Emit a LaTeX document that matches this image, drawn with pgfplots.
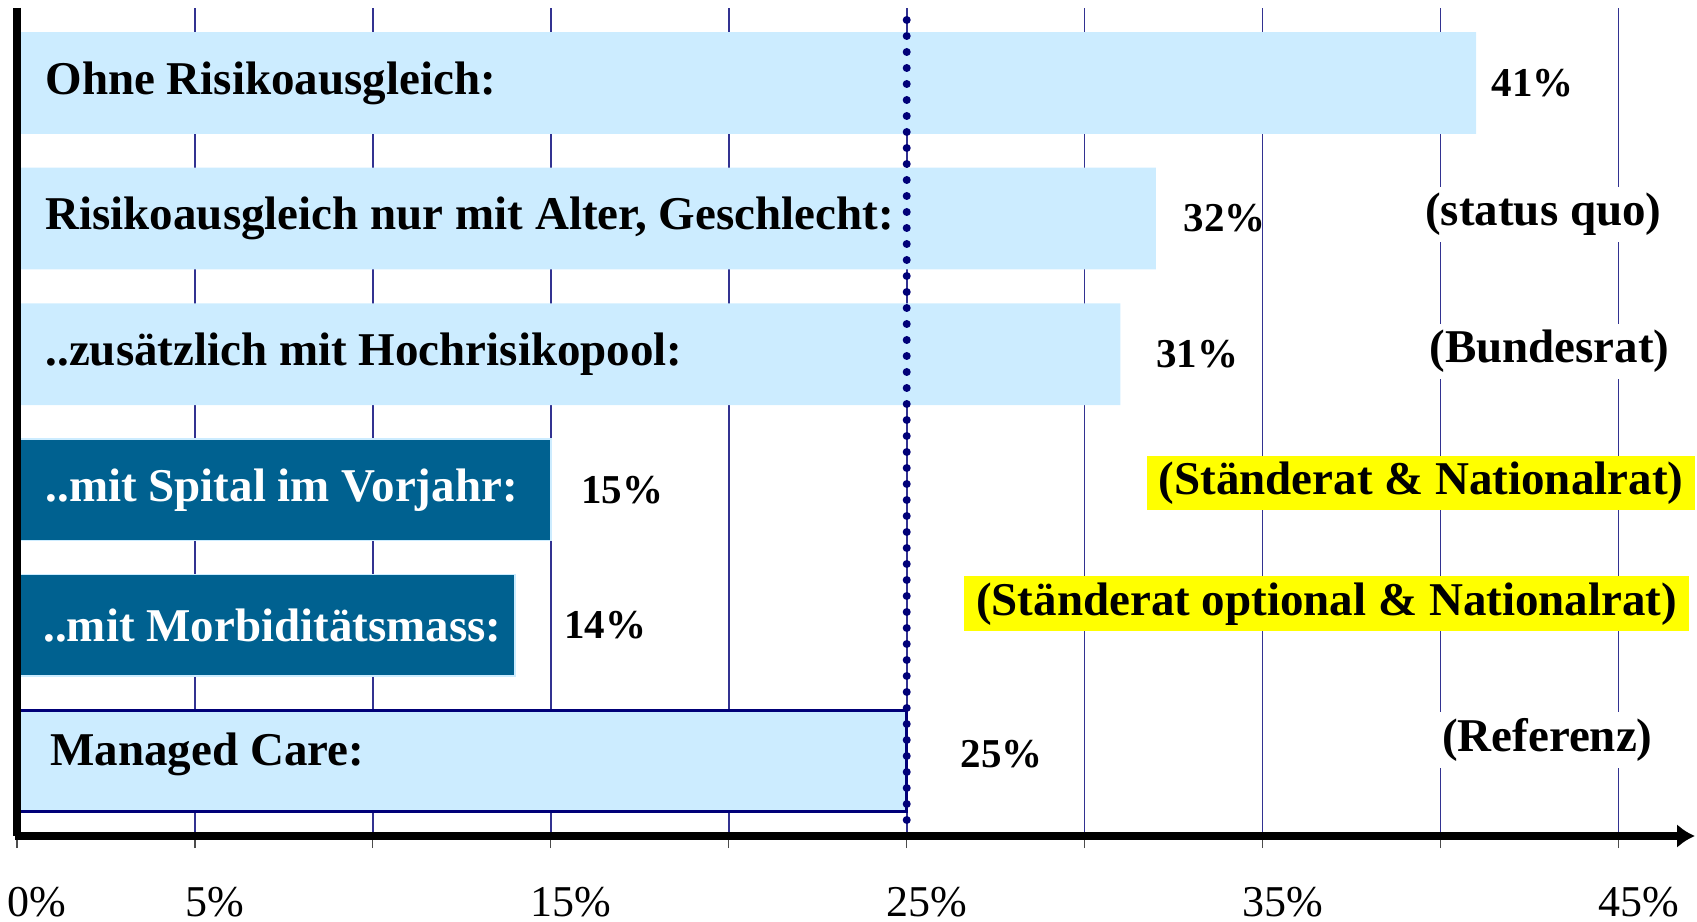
\documentclass[border=0pt]{standalone}
\usepackage{fontspec}
\setmainfont{Liberation Serif}
\usepackage{pgfplots}
\pgfplotsset{compat=1.18}
\usepackage{pgfplotstable}
\usetikzlibrary{arrows.meta}

\definecolor{barlight}{RGB}{204,236,255}
\definecolor{bardark}{RGB}{0,97,144}
\definecolor{refnavy}{RGB}{0,0,120}
\definecolor{gridnavy}{RGB}{50,50,145}
\definecolor{hlyellow}{RGB}{255,255,0}

\newcommand{\lblfont}{\fontsize{23.5pt}{28pt}\selectfont\bfseries}
\newcommand{\valfont}{\fontsize{20.5pt}{24pt}\selectfont\bfseries}

% category labels inside the bars
\pgfplotstableread[col sep=semicolon]{
x;y;label
0.79;5;Ohne Risikoausgleich:
0.79;4;Risikoausgleich nur mit Alter, Geschlecht:
0.79;3;..zusätzlich mit Hochrisikopool:
0.93;0.05;Managed Care:
}\catlight
\pgfplotstableread[col sep=semicolon]{
x;y;label
0.79;2;..mit Spital im Vorjahr:
0.73;1;..mit Morbiditätsmass:
}\catdark
% value labels (position, value)
\pgfplotstableread{
x y v
41.43 5 41
32.77 4 32
32.00 3 31
15.85 2 15
15.37 1 14
26.50 0.05 25
}\vals

\begin{document}
\begin{tikzpicture}
\begin{axis}[
  name=ax,
  scale only axis,
  width=839pt, height=414pt,
  xmin=0, xmax=47.15,
  ymin=-0.553, ymax=5.553,
  axis x line=bottom, axis y line=left,
  axis line style={draw=none},
  xtick={0,5,...,45},
  xticklabels={{0\%},{5\%},{},{15\%},{},{25\%},{},{35\%},{},{45\%}},
  ytick=\empty,
  tick align=outside,
  major tick length=6pt,
  xtick style={draw=black!70, line width=0.6pt},
  xmajorgrids,
  major grid style={gridnavy, line width=0.8pt},
  xticklabel style={font=\fontsize{22pt}{26pt}\selectfont, anchor=center, xshift=10pt, yshift=-27pt},
  clip=false,
  bar width=0.75,
]
\addplot[xbar, bar shift=0pt, fill=barlight, draw=none] coordinates {(41,5) (32,4) (31,3)};
\addplot[xbar, bar shift=0pt, fill=bardark, draw=barlight, line width=0.8pt] coordinates {(15,2) (14,1)};
\addplot[xbar, bar shift=0pt, fill=barlight, draw=refnavy, line width=1.5pt] coordinates {(25,0)};

% reference line at 25%
\addplot[refnavy, line width=4pt, line cap=round, dash pattern=on 0pt off 8pt] coordinates {(25,-0.553) (25,5.553)};

% axis lines drawn over the bars
\draw[line width=4pt] (axis cs:0,5.553) -- (axis cs:0,-0.553);
\draw[line width=4pt, -{Latex[length=9pt,width=12pt]}] (axis cs:-0.05,-0.553) -- (axis cs:47.15,-0.553);

\addplot[draw=none, nodes near coords={\pgfplotspointmeta}, point meta=explicit symbolic,
  every node near coord/.append style={anchor=west, inner sep=0pt, font=\lblfont, text=black}]
  table[x=x, y=y, meta=label] {\catlight};
\addplot[draw=none, nodes near coords={\pgfplotspointmeta}, point meta=explicit symbolic,
  every node near coord/.append style={anchor=west, inner sep=0pt, font=\lblfont, text=white}]
  table[x=x, y=y, meta=label] {\catdark};
\addplot[draw=none, nodes near coords={\pgfplotspointmeta\%}, point meta=explicit symbolic,
  every node near coord/.append style={anchor=west, inner sep=0pt, font=\valfont, text=black}]
  table[x=x, y=y, meta=v] {\vals};

\node[font=\lblfont, fill=white, inner xsep=4pt, inner ysep=3pt] at (axis cs:42.89,4.03) {(status quo)};
\node[font=\lblfont, fill=white, inner xsep=4pt, inner ysep=3pt] at (axis cs:43.06,3.02) {(Bundesrat)};
\node[font=\lblfont, fill=hlyellow, inner xsep=6pt, inner ysep=3pt] at (axis cs:39.45,2.05) {(Ständerat \& Nationalrat)};
\node[font=\lblfont, fill=hlyellow, inner xsep=6pt, inner ysep=3pt] at (axis cs:36.80,1.16) {(Ständerat optional \& Nationalrat)};
\node[font=\lblfont, fill=white, inner xsep=4pt, inner ysep=3pt] at (axis cs:43.0,0.155) {(Referenz)};
\end{axis}
\pgfresetboundingbox
\path[use as bounding box] ([shift={(-8.5pt,-42.5pt)}]ax.south west) rectangle ([shift={(1pt,4pt)}]ax.north east);
\end{tikzpicture}
\end{document}
